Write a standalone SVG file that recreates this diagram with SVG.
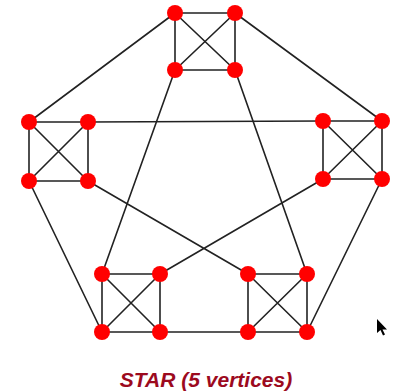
<svg xmlns="http://www.w3.org/2000/svg" width="396" height="392" viewBox="0 0 396 392">
<style>
.e{stroke:#222;stroke-width:1.6;fill:none}
.n{fill:#ff0000}
.t{font-family:"Liberation Sans",Arial,sans-serif;font-weight:bold;font-style:italic;font-size:21px;fill:#9c0a1e}
</style>
<rect width="396" height="392" fill="#fff"/>
<g id="connectors" class="e">
<!-- top square -->
<path d="M175,13H235V70H175Z M175,13L235,70 M235,13L175,70"/>
<!-- left square -->
<path d="M29,122H88V181H29Z M29,122L88,181 M88,122L29,181"/>
<!-- right square -->
<path d="M323,121H382V179H323Z M323,121L382,179 M382,121L323,179"/>
<!-- bottom-left square -->
<path d="M102,274H160V332H102Z M102,274L160,332 M160,274L102,332"/>
<!-- bottom-right square -->
<path d="M248,274H307V332H248Z M248,274L307,332 M307,274L248,332"/>
<!-- pentagon -->
<path d="M175,13L29,122 M235,13L382,121 M88,122L323,121 M29,181L102,332 M382,179L307,332 M160,332L248,332"/>
<!-- star -->
<path d="M175,70L102,274 M235,70L307,274 M88,181L248,274 M323,179L160,274"/>
</g>
<g id="top" class="n">
<circle cx="175" cy="13" r="8"/><circle cx="235" cy="13" r="8"/><circle cx="175" cy="70" r="8"/><circle cx="235" cy="70" r="8"/>
</g>
<g id="left" class="n">
<circle cx="29" cy="122" r="8"/><circle cx="88" cy="122" r="8"/><circle cx="29" cy="181" r="8"/><circle cx="88" cy="181" r="8"/>
</g>
<g id="right" class="n">
<circle cx="323" cy="121" r="8"/><circle cx="382" cy="121" r="8"/><circle cx="323" cy="179" r="8"/><circle cx="382" cy="179" r="8"/>
</g>
<g id="bottom-left" class="n">
<circle cx="102" cy="274" r="8"/><circle cx="160" cy="274" r="8"/><circle cx="102" cy="332" r="8"/><circle cx="160" cy="332" r="8"/>
</g>
<g id="bottom-right" class="n">
<circle cx="248" cy="274" r="8"/><circle cx="307" cy="274" r="8"/><circle cx="248" cy="332" r="8"/><circle cx="307" cy="332" r="8"/>
</g>
<g id="title">
<text class="t" x="206" y="387" text-anchor="middle">STAR (5 vertices)</text>
</g>
<g id="cursor">
<path d="M377,319L377,333L380.5,330L383,335.5L385,334.5L382.5,329.5L387,329.5Z" fill="#000"/>
</g>
</svg>
